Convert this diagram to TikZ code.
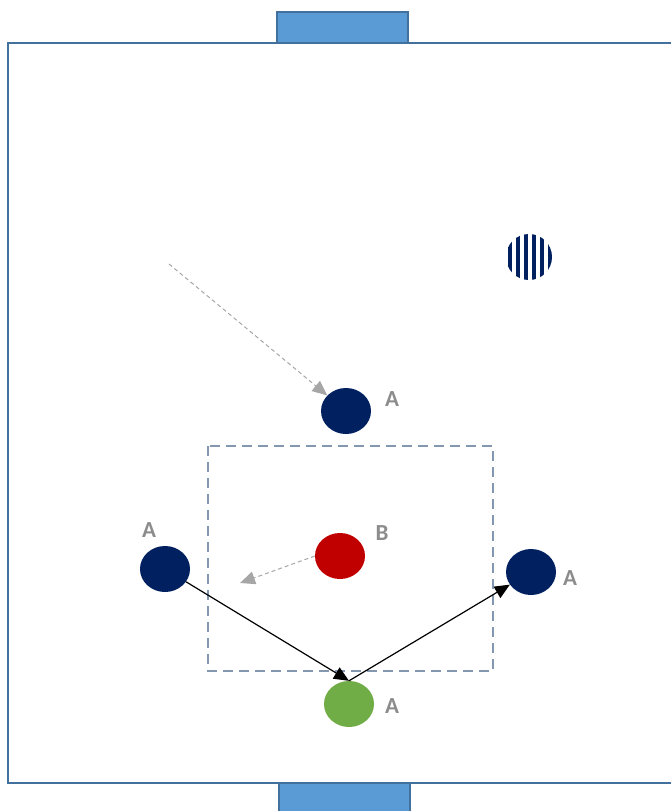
\documentclass[tikz,border=0pt]{standalone}
\usepackage{fontspec}
\setmainfont{Carlito}
\usetikzlibrary{arrows.meta,shapes.geometric}
\definecolor{fieldline}{HTML}{41719C}
\definecolor{goalfill}{HTML}{5B9BD5}
\definecolor{navy}{HTML}{002060}
\definecolor{redpl}{HTML}{C00000}
\definecolor{greenpl}{HTML}{70AD47}
\definecolor{zone}{HTML}{8497B0}
\definecolor{lbl}{HTML}{8C8C8C}
\tikzset{
  player/.style={ellipse, inner sep=0pt, minimum width=50pt, minimum height=46pt},
  tag/.style={text=lbl, font=\fontsize{23}{27}\selectfont\bfseries},
  pass/.style={-{Triangle[length=15pt,width=13pt]}, line width=1.2pt},
  run/.style={-{Triangle[length=15pt,width=13pt]}, dash pattern=on 4pt off 3pt, draw=gray!70, line width=1pt},
}
\begin{document}
\begin{tikzpicture}[x=1pt, y=-1pt]
    \useasboundingbox (0,0) rectangle (671,811);
    % field and goals
    \draw [fieldline, line width=2pt] (672,43) -- (8,43) -- (8,783) -- (672,783);
    \draw [fieldline, fill=goalfill, line width=2pt] (277,12) rectangle (408,43);
    \draw [fieldline, fill=goalfill, line width=2pt] (279,783) rectangle (410,812);
    % zone
    \draw [zone, line width=2.5pt, dash pattern=on 10pt off 6pt] (208,446) rectangle (493,671);
    % striped ball
    \begin{scope}
      \clip (529,257) circle (23);
      \foreach \x in {507,515,...,551}
        \fill [navy] (\x+1,230) rectangle (\x+5,284);
    \end{scope}
    % players
    \node (a1) [player, fill=navy]    at (346,411) {};
    \node (a2) [player, fill=navy]    at (165,569) {};
    \node (a3) [player, fill=navy]    at (531,572) {};
    \node (b)  [player, fill=redpl]   at (340,556) {};
    \node (gk) [player, fill=greenpl] at (349,704) {};
    \node [tag] at ([shift={(46,-12)}] a1) {A};
    \node [tag] at ([shift={(-16,-39)}] a2) {A};
    \node [tag] at ([shift={(39,6)}]   a3) {A};
    \node [tag] at ([shift={(42,-23)}] b)  {B};
    \node [tag] at ([shift={(43,2)}]   gk) {A};
    % runs and passes
    \coordinate (start) at (169,264);
    \coordinate (free)  at (240,583);
    \draw [run] (start) to (a1);
    \draw [run] (b.west) to (free);
    \draw [pass] (a2) to (gk.north);
    \draw [pass] (gk.north) to (a3);
\end{tikzpicture}
\end{document}
